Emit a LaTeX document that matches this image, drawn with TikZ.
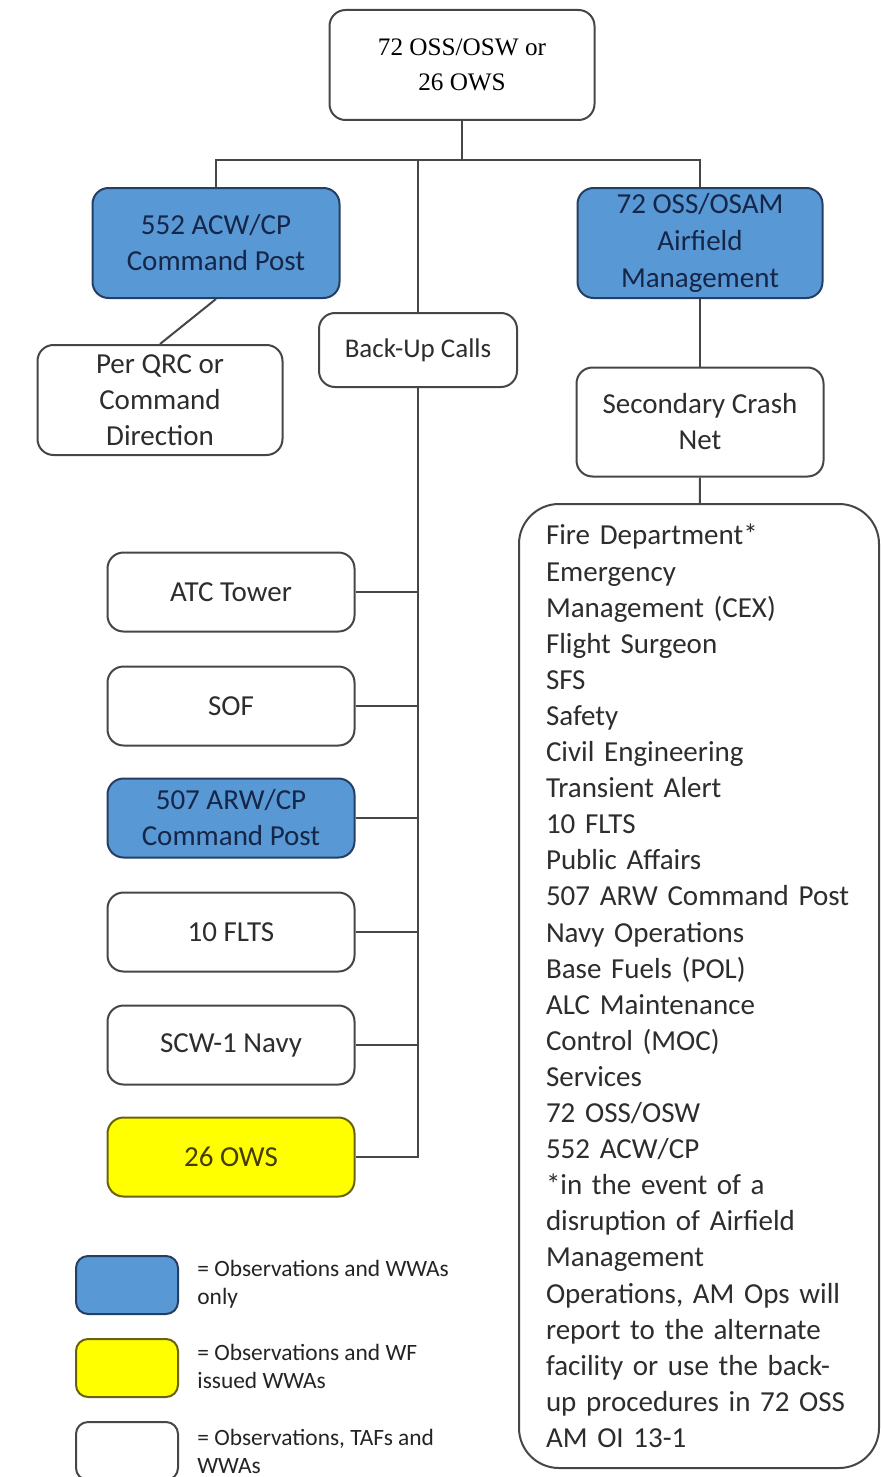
\documentclass[tikz,border=0pt]{standalone}
\usepackage{fontspec}
\setmainfont{Carlito}
\newfontfamily\serifface{Liberation Serif}
\usepackage{tikz}
\usetikzlibrary{positioning}
\definecolor{cpblue}{RGB}{88,152,212}
\definecolor{cpedge}{RGB}{38,62,100}
\definecolor{cptext}{RGB}{22,38,72}
\definecolor{wfyellow}{RGB}{255,255,0}
\definecolor{wfedge}{RGB}{105,98,10}
\definecolor{wftext}{RGB}{70,62,0}
\definecolor{edgegray}{RGB}{70,70,70}
\definecolor{inkgray}{RGB}{45,45,45}
\tikzset{
  unit/.style={draw=edgegray,line width=1pt,rounded corners=8pt,fill=white,text=inkgray,minimum width=123.5pt,minimum height=39.5pt,align=center,inner sep=2pt,font=\fontsize{14.5}{18}\selectfont},
  obs/.style={unit,fill=cpblue,draw=cpedge,text=cptext},
  wf/.style={unit,fill=wfyellow,draw=wfedge,text=wftext},
  key/.style={minimum width=51pt,minimum height=29pt,rounded corners=6pt},
  note/.style={anchor=west,align=left,text=inkgray!80!black,inner sep=0pt,font=\fontsize{11.7}{14}\selectfont},
  link/.style={draw=edgegray,line width=1pt}
}
\begin{document}
\begin{tikzpicture}[x=0.5pt,y=-0.5pt]
\useasboundingbox (0,0) rectangle (880,1477);
% top of the chart
\node[unit,minimum width=132.5pt,minimum height=55pt,text=black,font=\serifface\fontsize{12.6}{17.5}\selectfont] (top) at (462,65) {72 OSS/OSW or\\26 OWS};
\node[obs,minimum height=55pt] (acw) at (216,243) {552 ACW/CP\\Command Post};
\node[unit,minimum width=122.5pt,minimum height=55pt] (qrc) at (160,400) {Per QRC or\\Command\\Direction};
\node[unit,minimum width=99pt,minimum height=37pt,font=\fontsize{13.5}{17}\selectfont] (calls) at (418,350) {Back-Up Calls};
\node[obs,minimum width=122.5pt,minimum height=55pt,font=\fontsize{14.5}{18.5}\selectfont] (osam) at (700,243) {72 OSS/OSAM\\Airfield\\Management};
\node[unit,minimum height=54.5pt] (crash) at (700,422) {Secondary Crash\\Net};
% crash net list
\node[unit,anchor=north,minimum width=180pt,minimum height=482pt,rounded corners=20pt,align=left,text width=153pt,inner sep=0pt,font=\fontsize{14.5}{18.05}\selectfont] (net) at (699,503) {Fire Department*\\Emergency\\Management (CEX)\\Flight Surgeon\\SFS\\Safety\\Civil Engineering\\Transient Alert\\10 FLTS\\Public Affairs\\507 ARW Command Post\\Navy Operations\\Base Fuels (POL)\\ALC Maintenance\\Control (MOC)\\Services\\72 OSS/OSW\\552 ACW/CP\\{*}in the event of a\\disruption of Airfield\\Management\\Operations, AM Ops will\\report to the alternate\\facility or use the back-\\up procedures in 72 OSS\\AM OI 13-1};
% back-up calls
\node[unit] (atc) at (231,592) {ATC Tower};
\node[unit] (sof) at (231,706) {SOF};
\node[obs] (arw) at (231,818) {507 ARW/CP\\Command Post};
\node[unit] (flts) at (231,932) {10 FLTS};
\node[unit] (scw) at (231,1045) {SCW-1 Navy};
\node[wf] (ows) at (231,1157) {26 OWS};
% legend
\node[obs,key] (kblue) at (127,1285) {};
\node[note] (tblue) at (197,1284) {= Observations and WWAs\\only};
\node[wf,key] (kyellow) at (127,1368) {};
\node[note] (tyellow) at (197,1366) {= Observations and WF\\issued WWAs};
\node[unit,key] (kwhite) at (127,1451) {};
\node[note] (twhite) at (197,1451) {= Observations, TAFs and\\WWAs};
% connectors
\coordinate (split) at (462,160);
\coordinate (trunk) at (418,1157);
\draw[link] (top)--(split);
\draw[link] (acw.north) |- (split) -| (osam.north);
\draw[link] (calls.north |- split)--(calls.north);
\draw[link] (acw.south)--(qrc.north);
\draw[link] (osam)--(crash);\draw[link] (crash)--(net);
\draw[link] (calls.south)--(trunk)--(ows.east);
\draw[link] (atc.east)--(atc.east -| trunk);\draw[link] (sof.east)--(sof.east -| trunk);
\draw[link] (arw.east)--(arw.east -| trunk);\draw[link] (flts.east)--(flts.east -| trunk);
\draw[link] (scw.east)--(scw.east -| trunk);
\end{tikzpicture}
\end{document}
